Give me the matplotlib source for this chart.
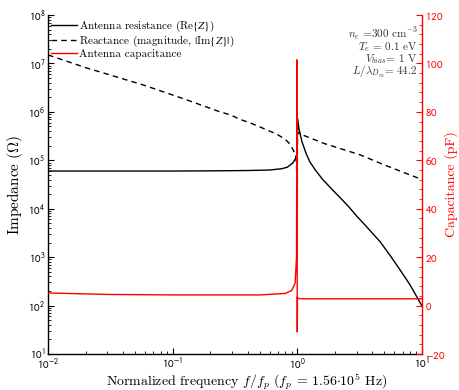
import matplotlib
matplotlib.use("Agg")
import matplotlib.pyplot as plt
from matplotlib.font_manager import FontProperties
from matplotlib.ticker import AutoMinorLocator, LogLocator, NullFormatter

plt.rcParams['font.family'] = ['cmr10', 'DejaVu Serif']
plt.rcParams['mathtext.fontset'] = 'cm'
plt.rcParams['axes.formatter.use_mathtext'] = True
plt.rcParams['axes.unicode_minus'] = False

# antenna resistance Re{Z} (Ohm)
f_res = [0.01, 0.03, 0.1, 0.2, 0.4, 0.6, 0.75, 0.83, 0.92, 0.97, 0.985, 0.993,
         0.997, 1.0, 1.005, 1.03, 1.09, 1.18, 1.26, 1.4, 1.6, 1.9, 2.2, 2.6, 3.0,
         3.55, 4.6, 5.6, 6.65, 8.0, 10.0]
res = [6.0e4, 6.0e4, 6.0e4, 6.05e4, 6.15e4, 6.3e4, 6.7e4, 7.2e4, 8.8e4, 1.1e5, 1.3e5, 1.6e5,
       1.1e4, 2.0e5, 7.3e5, 4.5e5, 2.4e5, 1.35e5, 9.3e4, 6.2e4, 4.0e4, 2.5e4, 1.7e4, 1.08e4, 7.0e3,
       4.4e3, 2.1e3, 1.05e3, 550, 270, 98]

# reactance magnitude |Im{Z}| (Ohm)
f_react = [0.01, 0.02, 0.058, 0.12, 0.24, 0.29, 0.347, 0.42, 0.5, 0.6, 0.68, 0.75,
           0.82, 0.88, 0.93, 0.97, 0.985, 0.995, 1.0, 1.003, 1.05, 1.66, 3.18, 5.0, 10.0]
react = [1.5e7, 8.2e6, 3.6e6, 1.9e6, 1.0e6, 8.7e5, 7.0e5, 5.9e5, 4.9e5, 4.0e5, 3.5e5, 3.0e5,
         2.55e5, 2.1e5, 1.6e5, 1.2e5, 8.0e4, 1.0e4, 1.2e4, 3.8e5, 3.5e5, 2.2e5, 1.3e5, 8.0e4, 4.0e4]

# antenna capacitance (pF)
f_cap = [0.01, 0.03, 0.1, 0.5, 0.8, 0.9, 0.96, 0.985, 0.993, 0.996, 0.999, 1.001,
         1.003, 1.05, 10.0]
cap = [5.2, 4.6, 4.4, 4.4, 5.0, 6.2, 9.3, 20.0, 101.5, 40.0, -10.9, 3.5,
       3.1, 2.8, 2.8]

x_ticks = [0.01, 0.1, 1, 10]
x_labels = [r'$10^{-2}$', r'$10^{-1}$', r'$10^{0}$', r'$10^{1}$']
y_ticks = [1e1, 1e2, 1e3, 1e4, 1e5, 1e6, 1e7, 1e8]
y_labels = [r'$10^{%d}$' % k for k in range(1, 9)]
cap_ticks = [-20, 0, 20, 40, 60, 80, 100, 120]

fig = plt.figure(figsize=(4.59, 3.90), dpi=100)
ax = fig.add_axes([0.1046, 0.0923, 0.8148, 0.8692])

ax.plot(f_res, res, color='black', lw=1.0, label=r'Antenna resistance (Re$\{Z\}$)')
ax.plot(f_react, react, color='black', lw=1.0, ls=(0, (4, 3)),
        label=r'Reactance (magnitude, $|$Im$\{Z\}|$)')
ax.plot([], [], color='red', lw=1.0, label='Antenna capacitance')

ax.set_xscale('log')
ax.set_yscale('log')
ax.set_xlim(0.01, 10)
ax.set_ylim(10, 1e8)
ax.set_xticks(x_ticks, x_labels, math_fontfamily='stixsans', fontsize=8)
ax.set_yticks(y_ticks, y_labels, math_fontfamily='stixsans', fontsize=8)
ax.xaxis.set_minor_locator(LogLocator(base=10, subs=range(2, 10), numticks=20))
ax.yaxis.set_minor_locator(LogLocator(base=10, subs=range(2, 10), numticks=20))
ax.xaxis.set_minor_formatter(NullFormatter())
ax.yaxis.set_minor_formatter(NullFormatter())
ax.tick_params(which='both', direction='in', top=False, right=False)
ax.tick_params(which='major', length=4, width=0.8, pad=2)
ax.tick_params(which='minor', length=2, width=0.6)
ax.spines['top'].set_visible(False)
ax.spines['right'].set_visible(False)
for s in ('left', 'bottom'):
    ax.spines[s].set_linewidth(1.0)

ax.set_xlabel(r'Normalized frequency $f/f_p$ ($f_p$ = 1.56$\cdot$10$^5$ Hz)', fontsize=10)
ax.xaxis.set_label_coords(0.53, -0.05)
ax.set_ylabel(r'Impedance ($\Omega$)', fontsize=11, labelpad=2)

# stix braces keep the legend rows compact
leg_font = FontProperties(family=['cmr10', 'DejaVu Serif'], size=8, math_fontfamily='stix')
ax.legend(loc='upper left', bbox_to_anchor=(0.0, 1.0), frameon=False, prop=leg_font,
          handlelength=2.3, handletextpad=0.15, labelspacing=0.0,
          borderaxespad=0.0, borderpad=0.3)

ax.text(0.989, 0.97,
        '$n_e$ =300 cm$^{-3}$\n$T_e$ = 0.1 eV\n$V_{bias}$= 1 V\n$L/\\lambda_{D_m}$= 44.2',
        transform=ax.transAxes, ha='right', va='top', multialignment='right',
        fontsize=8, color='#333333', linespacing=0.8)

# capacitance on the right axis
ax2 = ax.twinx()
ax2.plot(f_cap, cap, color='red', lw=1.0)
ax2.set_ylim(-20, 120)
ax2.set_yticks(cap_ticks, [r'$%d$' % v for v in cap_ticks], math_fontfamily='stixsans', fontsize=8)
ax2.yaxis.set_minor_locator(AutoMinorLocator(5))
ax2.tick_params(axis='y', which='both', direction='in', colors='red', pad=2)
ax2.tick_params(axis='y', which='major', length=4, width=0.8)
ax2.tick_params(axis='y', which='minor', length=2, width=0.6)
ax2.spines['right'].set_color('red')
ax2.spines['right'].set_linewidth(1.0)
ax2.spines['top'].set_visible(False)
ax2.spines['left'].set_visible(False)
ax2.spines['bottom'].set_visible(False)
ax2.set_ylabel('Capacitance (pF)', color='red', fontsize=10, labelpad=-1)

fig.savefig('out.png', dpi=100)
